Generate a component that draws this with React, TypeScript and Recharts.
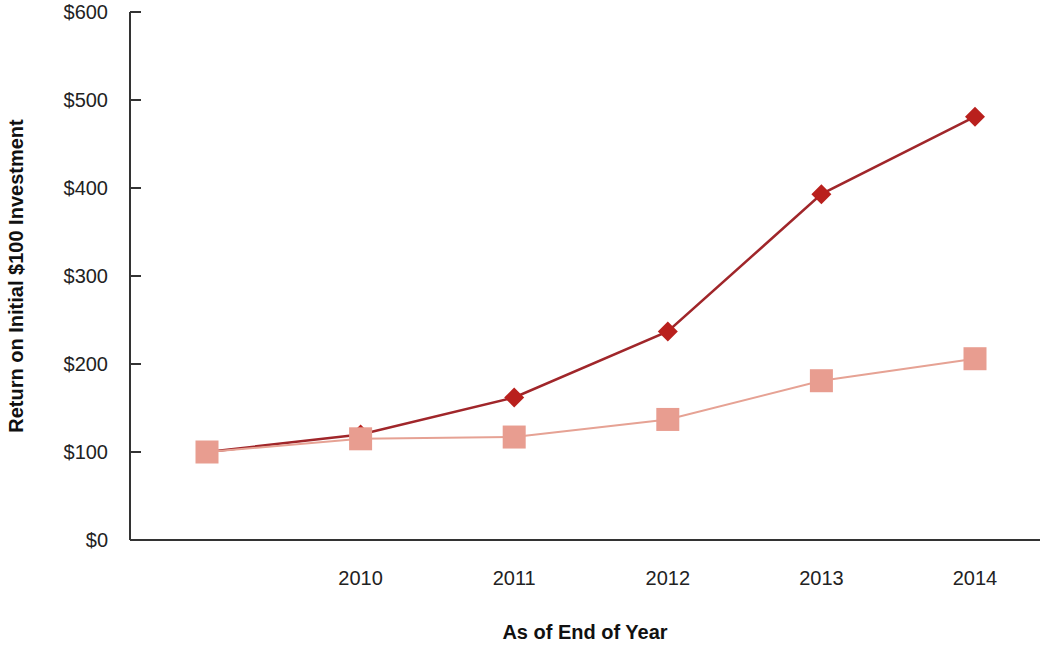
import { LineChart, Line, XAxis, YAxis, Label } from "recharts";

const years = ["2009", "2010", "2011", "2012", "2013", "2014"];
const companyReturn = [100, 120, 162, 237, 393, 481];
const indexReturn = [100, 115, 117, 137, 181, 206];
const yTicks = [0, 100, 200, 300, 400, 500, 600];

const rows = years.map((year, i) => ({
  year,
  company: companyReturn[i],
  index: indexReturn[i],
}));

const FONT = "'Liberation Sans', Arial, Helvetica, sans-serif";

const Diamond = (props: any) => {
  const { cx, cy } = props;
  if (cx == null || cy == null) return null;
  const r = 10;
  return (
    <path
      d={`M${cx},${cy - r}L${cx + r},${cy}L${cx},${cy + r}L${cx - r},${cy}Z`}
      fill="#b9201d"
    />
  );
};

const Square = (props: any) => {
  const { cx, cy } = props;
  if (cx == null || cy == null) return null;
  const s = 23;
  return <rect x={cx - s / 2} y={cy - s / 2} width={s} height={s} fill="#e89d90" />;
};

const YTick = (props: any) => {
  const { x, y, payload } = props;
  return (
    <g>
      <line x1={x} x2={x + 11} y1={y} y2={y} stroke="#333" strokeWidth={2} />
      <text
        x={x - 22}
        y={y}
        textAnchor="end"
        dominantBaseline="central"
        fontSize={20}
        fill="#222"
        fontFamily={FONT}
      >
        ${payload.value}
      </text>
    </g>
  );
};

const XTick = (props: any) => {
  const { x, y, payload } = props;
  if (payload.value === "2009") return null;
  return (
    <text
      x={x}
      y={y + 38}
      textAnchor="middle"
      dominantBaseline="central"
      fontSize={20}
      fill="#222"
      fontFamily={FONT}
    >
      {payload.value}
    </text>
  );
};

export default function App() {
  return (
    <div style={{ position: "absolute", left: 0, top: 0, background: "#fff" }}>
      <LineChart
        width={1044}
        height={645}
        data={rows}
        margin={{ top: 12, right: 4, bottom: 0, left: 0 }}
      >
        <XAxis
          dataKey="year"
          height={105}
          padding={{ left: 77, right: 65 }}
          tickLine={false}
          tickSize={0}
          tickMargin={0}
          axisLine={{ stroke: "#333", strokeWidth: 2 }}
          tick={<XTick />}
          interval={0}
        >
          <Label
            value="As of End of Year"
            position="insideBottom"
            offset={6}
            style={{ fontFamily: FONT, fontSize: 20, fontWeight: "bold", fill: "#111" }}
          />
        </XAxis>
        <YAxis
          width={130}
          domain={[0, 600]}
          ticks={yTicks}
          tickLine={false}
          tickSize={0}
          tickMargin={0}
          axisLine={{ stroke: "#333", strokeWidth: 2 }}
          tick={<YTick />}
          interval={0}
        >
          <Label
            value="Return on Initial $100 Investment"
            angle={-90}
            position="insideLeft"
            offset={16}
            style={{
              fontFamily: FONT,
              fontSize: 20,
              fontWeight: "bold",
              fill: "#111",
              textAnchor: "middle",
            }}
          />
        </YAxis>
        <Line
          dataKey="company"
          stroke="#a0262a"
          strokeWidth={2.5}
          dot={<Diamond />}
          isAnimationActive={false}
        />
        <Line
          dataKey="index"
          stroke="#e6a294"
          strokeWidth={2}
          dot={<Square />}
          isAnimationActive={false}
        />
      </LineChart>
    </div>
  );
}
